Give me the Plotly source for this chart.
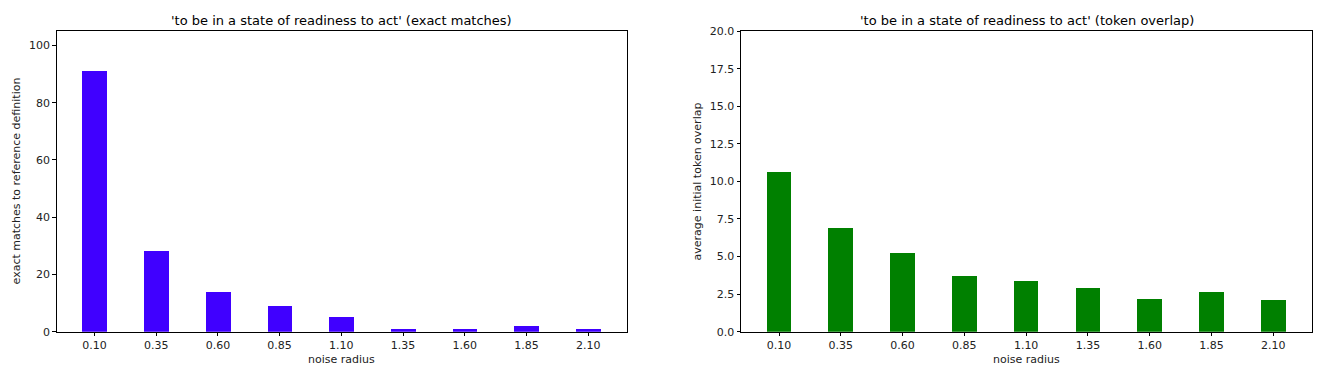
import plotly.graph_objects as go

noise_radius = [0.10, 0.35, 0.60, 0.85, 1.10, 1.35, 1.60, 1.85, 2.10]
tick_labels = ["0.10", "0.35", "0.60", "0.85", "1.10", "1.35", "1.60", "1.85", "2.10"]
exact_matches = [91, 28, 14, 9, 5, 1, 1, 2, 1]
token_overlap = [10.65, 6.92, 5.21, 3.73, 3.39, 2.89, 2.19, 2.62, 2.08]

title_left = "'to be in a state of readiness to act' (exact matches)"
title_right = "'to be in a state of readiness to act' (token overlap)"

W, H = 1320, 379
FONT = "DejaVu Sans"
TICK_SIZE = 11
LABEL_SIZE = 11
TITLE_SIZE = 13

fig = go.Figure()
fig.add_trace(go.Bar(x=noise_radius, y=exact_matches, width=0.1,
                     marker=dict(color="#4000ff", line=dict(width=0)),
                     xaxis="x", yaxis="y", showlegend=False))
fig.add_trace(go.Bar(x=noise_radius, y=token_overlap, width=0.1,
                     marker=dict(color="#008000", line=dict(width=0)),
                     xaxis="x2", yaxis="y2", showlegend=False))

def px_x(p):
    return p / W

def px_y(p):
    return 1 - p / H

ax_common = dict(showline=True, linecolor="black", linewidth=1, mirror=True,
                 ticks="outside", ticklen=3.5, tickwidth=1, tickcolor="black",
                 showgrid=False, zeroline=False,
                 tickfont=dict(family=FONT, size=TICK_SIZE, color="#222"))

xd1 = [px_x(56.7), px_x(626.7)]
xd2 = [px_x(741), px_x(1312)]
yd = [px_y(337.3), px_y(26)]

fig.update_layout(
    width=W, height=H,
    margin=dict(l=0, r=0, t=0, b=0),
    paper_bgcolor="white", plot_bgcolor="white",
    font=dict(family=FONT, size=TICK_SIZE, color="#222"),
    bargap=0,
    xaxis=dict(domain=xd1, range=[-0.053, 2.256], tickmode="array",
               tickvals=noise_radius, ticktext=tick_labels, anchor="y", **ax_common),
    yaxis=dict(domain=yd, range=[0, 105], tickmode="array",
               tickvals=[0, 20, 40, 60, 80, 100], anchor="x", **ax_common),
    xaxis2=dict(domain=xd2, range=[-0.054, 2.257], tickmode="array",
                tickvals=noise_radius, ticktext=tick_labels, anchor="y2", **ax_common),
    yaxis2=dict(domain=yd, range=[0, 20], tickmode="array",
                tickvals=[0, 2.5, 5, 7.5, 10, 12.5, 15, 17.5, 20],
                ticktext=["0.0", "2.5", "5.0", "7.5", "10.0", "12.5", "15.0", "17.5", "20.0"],
                anchor="x2", **ax_common),
)

ann = []
ann.append(dict(text=title_left, x=(xd1[0] + xd1[1]) / 2, y=px_y(15), xref="paper", yref="paper",
                showarrow=False, font=dict(family=FONT, size=TITLE_SIZE, color="black"),
                xanchor="center", yanchor="middle"))
ann.append(dict(text=title_right, x=(xd2[0] + xd2[1]) / 2, y=px_y(15), xref="paper", yref="paper",
                showarrow=False, font=dict(family=FONT, size=TITLE_SIZE, color="black"),
                xanchor="center", yanchor="middle"))
for xd in (xd1, xd2):
    ann.append(dict(text="noise radius", x=(xd[0] + xd[1]) / 2, y=px_y(366), xref="paper", yref="paper",
                    showarrow=False, font=dict(family=FONT, size=LABEL_SIZE, color="#222"),
                    xanchor="center", yanchor="middle"))
ann.append(dict(text="exact matches to reference definition", x=px_x(16), y=(yd[0] + yd[1]) / 2,
                xref="paper", yref="paper", showarrow=False, textangle=-90,
                font=dict(family=FONT, size=LABEL_SIZE, color="#222"), xanchor="center", yanchor="middle"))
ann.append(dict(text="average initial token overlap", x=px_x(697), y=(yd[0] + yd[1]) / 2,
                xref="paper", yref="paper", showarrow=False, textangle=-90,
                font=dict(family=FONT, size=LABEL_SIZE, color="#222"), xanchor="center", yanchor="middle"))
fig.update_layout(annotations=ann)

fig.write_html("out.html", config={"displayModeBar": False},
               post_script="document.body.style.margin='0';document.body.style.overflow='hidden';")
